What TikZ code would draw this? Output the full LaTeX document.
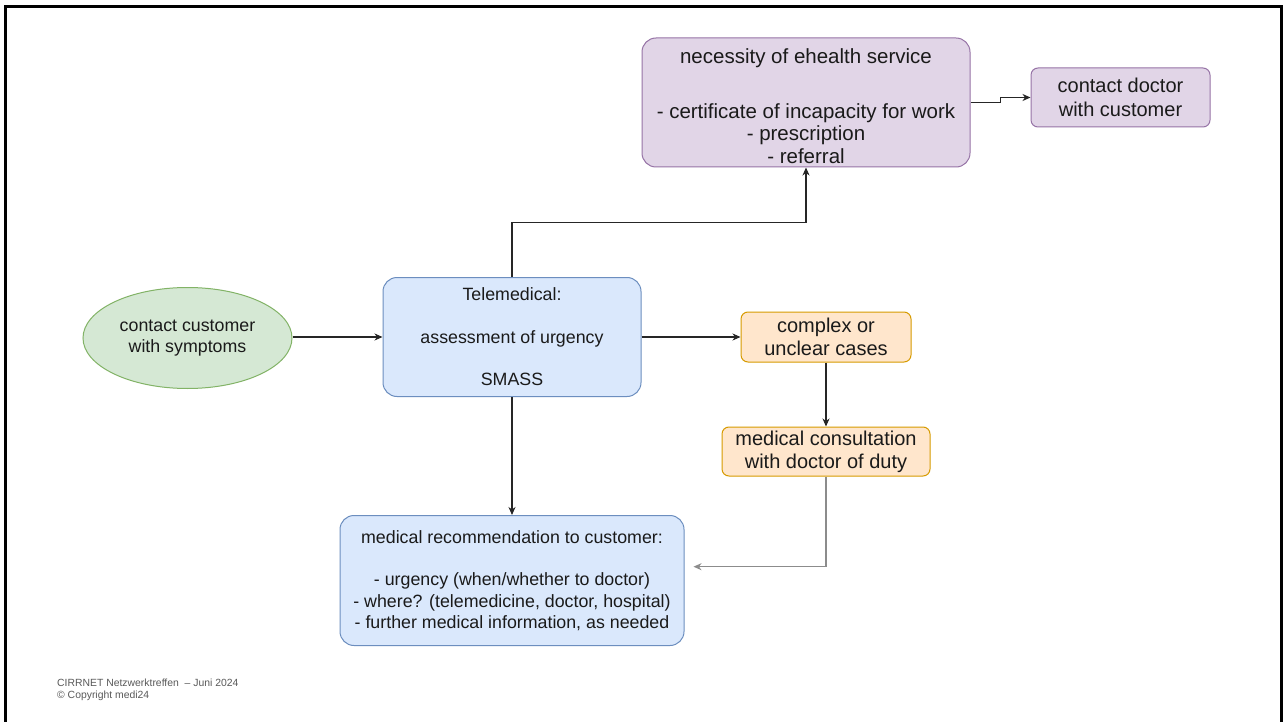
\documentclass[tikz,border=0pt]{standalone}
\usepackage{fontspec}
\setmainfont{Liberation Sans}
\usetikzlibrary{shapes.geometric,arrows.meta,calc}
\definecolor{gfill}{HTML}{D5E8D4}\definecolor{gline}{HTML}{82B366}
\definecolor{bfill}{HTML}{DAE8FC}\definecolor{bline}{HTML}{6C8EBF}
\definecolor{pfill}{HTML}{E1D5E7}\definecolor{pline}{HTML}{9673A6}
\definecolor{ofill}{HTML}{FFE6CC}\definecolor{oline}{HTML}{D79B00}
\definecolor{txt}{HTML}{1A1A1A}
\definecolor{foot}{HTML}{595959}
\begin{document}
\begin{tikzpicture}[x=1pt,y=-1pt,
  smallfont/.style={font=\fontsize{17.8}{21.3}\selectfont},
  bigfont/.style={font=\fontsize{20}{23.3}\selectfont},
  boxbase/.style={draw, line width=1pt, inner sep=0pt, align=center, text=txt},
  bluebox/.style={boxbase, smallfont, fill=bfill, draw=bline, rounded corners=14pt},
  purplebox/.style={boxbase, font=\fontsize{20.5}{22.5}\selectfont, fill=pfill, draw=pline, rounded corners=14pt},
  docbox/.style={boxbase, bigfont, fill=pfill, draw=pline, rounded corners=7pt},
  orangebox/.style={boxbase, bigfont, fill=ofill, draw=oline, rounded corners=7pt},
  greenell/.style={boxbase, smallfont, ellipse, fill=gfill, draw=gline},
  arr/.style={draw=black!85, line width=1.1pt, -{Stealth[length=8pt,width=7pt,inset=2.5pt]}},
  grayarr/.style={arr, draw=black!45},
]
\useasboundingbox (0,0) rectangle (1288,722);
\clip (0,0) rectangle (1288,722);
\fill[white] (0,0) rectangle (1288,722);
% frame
\draw[line width=3pt, black] (5.5,760) -- (5.5,6.5) -- (1281.5,6.5) -- (1281.5,760);

\node[greenell, minimum width=209pt, minimum height=101pt] (ell) at (187.5,338) {contact customer\\with symptoms};
\node[bluebox, minimum width=258pt, minimum height=119pt] (tele) at (512,337) {Telemedical:\\[21.3pt]assessment of urgency\\[21.3pt]SMASS};
\node[purplebox, minimum width=328pt, minimum height=129pt] (pur) at (806,102.5) {\rule{0pt}{22pt}necessity of ehealth service\\[32.5pt]- certificate of incapacity for work\\- prescription\\- referral};
\node[docbox, minimum width=179pt, minimum height=59pt] (doc) at (1120.5,97.5) {contact doctor\\with customer};
\node[orangebox, minimum width=170pt, minimum height=50pt] (cx) at (826,337) {complex or\\unclear cases};
\node[orangebox, minimum width=208pt, minimum height=49pt] (mc) at (826,451.5) {medical consultation\\with doctor of duty};
\node[bluebox, minimum width=344pt, minimum height=130pt] (rec) at (512,580.5) {medical recommendation to customer:\\[21.3pt]- urgency (when/whether to doctor)\\- where? (telemedicine, doctor, hospital)\\- further medical information, as needed};

\node[anchor=north west, align=left, inner sep=0pt, text=foot, font=\fontsize{10.4}{11.5}\selectfont] (foot) at (57,679) {CIRRNET Netzwerktreffen \ -- Juni 2024\\\textcopyright{} Copyright medi24};

% connectors
\draw[arr] (ell.east |- tele) -- (tele);
\coordinate (m1) at ($(tele.north)!0.5!(pur.south)$);
\draw[arr] (tele.north) |- (m1) -| (pur.south);
\coordinate (m2) at ($(pur.east)!0.5!(doc.west)$);
\draw[arr] (pur.east) -| (m2) |- (doc.west);
\draw[arr] (tele) -- (cx);
\draw[arr] (cx) -- (mc);
\draw[arr] (tele) -- (rec);
\coordinate (recin) at (693.5,566.7);
\draw[grayarr] (mc.south) |- (recin);
\end{tikzpicture}
\end{document}
